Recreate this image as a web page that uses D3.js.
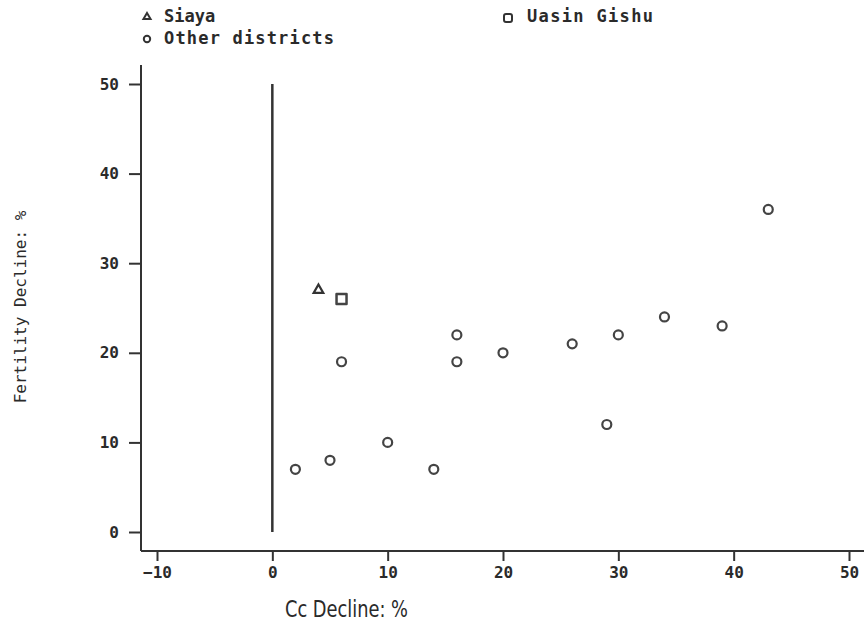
<!DOCTYPE html>
<html>
<head>
<meta charset="utf-8">
<script src="https://cdn.jsdelivr.net/npm/d3@7/dist/d3.min.js"></script>
<style>
  body { margin: 0; background: #fff; }
  text { font-family: "DejaVu Sans Mono", monospace; fill: #2a2a2a; }
</style>
</head>
<body>
<svg></svg>
<script>
var width = 864,
  height = 639;

// data: Cc decline % vs fertility decline %
var siayaX = [4], siayaY = [27];
var uasinX = [6], uasinY = [26];
var otherX = [2, 5, 10, 14, 6, 16, 16, 20, 26, 30, 34, 39, 43, 29];
var otherY = [7, 8, 10, 7, 19, 22, 19, 20, 21, 22, 24, 23, 36, 12];
var xTicks = [-10, 0, 10, 20, 30, 40, 50];
var yTicks = [0, 10, 20, 30, 40, 50];
var refLine = [[0, 0], [0, 50]];

var svg = d3.select("svg")
  .attr("width", width)
  .attr("height", height);

var x = d3.scaleLinear().domain([-10, 50]).range([157, 849]);
var y = d3.scaleLinear().domain([0, 50]).range([532, 84]);

var axisX = 141, axisY = 551, ink = "#333";

// axis lines
svg.append("line")
  .attr("x1", axisX).attr("x2", axisX)
  .attr("y1", 65).attr("y2", axisY)
  .attr("stroke", ink).attr("stroke-width", 2);
svg.append("line")
  .attr("x1", axisX).attr("x2", width)
  .attr("y1", axisY).attr("y2", axisY)
  .attr("stroke", ink).attr("stroke-width", 2);

var gx = svg.append("g")
  .attr("transform", "translate(0," + axisY + ")")
  .call(d3.axisBottom(x).tickValues(xTicks).tickSize(10).tickPadding(6).tickFormat(d3.format("d")));
gx.select(".domain").remove();
gx.selectAll("line").attr("stroke", ink).attr("stroke-width", 2);
gx.selectAll("text").style("font-size", "16px").style("font-weight", "bold").attr("fill", ink);

var gy = svg.append("g")
  .attr("transform", "translate(" + axisX + ",0)")
  .call(d3.axisLeft(y).tickValues(yTicks).tickSize(12).tickPadding(10));
gy.select(".domain").remove();
gy.selectAll("line").attr("stroke", ink).attr("stroke-width", 2);
gy.selectAll("text").style("font-size", "16px").style("font-weight", "bold").attr("fill", ink);

// vertical reference line at zero
svg.append("path")
  .datum(refLine)
  .attr("d", d3.line().x(function(d) { return x(d[0]); }).y(function(d) { return y(d[1]); }))
  .attr("stroke", ink)
  .attr("stroke-width", 2.5);

// points
var other = otherX.map(function(v, i) { return [v, otherY[i]]; });
svg.append("g").selectAll("circle")
  .data(other)
  .enter().append("circle")
  .attr("cx", function(d) { return x(d[0]); })
  .attr("cy", function(d) { return y(d[1]); })
  .attr("r", 4.5)
  .attr("fill", "none")
  .attr("stroke", "#444")
  .attr("stroke-width", 2.2);

var tri = d3.symbol().type(d3.symbolTriangle).size(40);
var sq = d3.symbol().type(d3.symbolSquare).size(100);

svg.append("g").selectAll("path")
  .data(siayaX.map(function(v, i) { return [v, siayaY[i]]; }))
  .enter().append("path")
  .attr("d", tri)
  .attr("transform", function(d) { return "translate(" + x(d[0]) + "," + y(d[1]) + ")"; })
  .attr("fill", "none").attr("stroke", "#333").attr("stroke-width", 2.2);

svg.append("g").selectAll("path")
  .data(uasinX.map(function(v, i) { return [v, uasinY[i]]; }))
  .enter().append("path")
  .attr("d", sq)
  .attr("transform", function(d) { return "translate(" + x(d[0]) + "," + y(d[1]) + ")"; })
  .attr("fill", "none").attr("stroke", "#444").attr("stroke-width", 2.5)
  .attr("stroke-linejoin", "round");

// legend
var legend = svg.append("g");
legend.append("path").attr("d", d3.symbol().type(d3.symbolTriangle).size(22))
  .attr("transform", "translate(147,17)")
  .attr("fill", "none").attr("stroke", "#333").attr("stroke-width", 2);
legend.append("text").attr("x", 164).attr("y", 22).text("Siaya")
  .style("font-size", "17px").style("font-weight", "bold");
legend.append("circle").attr("cx", 147).attr("cy", 39).attr("r", 3.2)
  .attr("fill", "none").attr("stroke", "#333").attr("stroke-width", 2);
legend.append("text").attr("x", 164).attr("y", 44).text("Other districts")
  .attr("textLength", 170).attr("lengthAdjust", "spacing")
  .style("font-size", "17px").style("font-weight", "bold");
legend.append("rect").attr("x", 504).attr("y", 14).attr("width", 8).attr("height", 8).attr("rx", 2)
  .attr("fill", "none").attr("stroke", "#333").attr("stroke-width", 2);
legend.append("text").attr("x", 527).attr("y", 22).text("Uasin Gishu")
  .attr("textLength", 126).attr("lengthAdjust", "spacing")
  .style("font-size", "17px").style("font-weight", "bold");

// axis titles
svg.append("text")
  .attr("x", 285).attr("y", 617)
  .attr("textLength", 123).attr("lengthAdjust", "spacingAndGlyphs")
  .style("font-family", "'DejaVu Sans Condensed', sans-serif")
  .style("font-size", "23px")
  .attr("fill", "#222")
  .text("Cc Decline: %");

svg.append("text")
  .attr("transform", "translate(26,307) rotate(-90)")
  .attr("text-anchor", "middle")
  .style("font-size", "16px")
  .attr("fill", "#333")
  .text("Fertility Decline: %");
</script>
</body>
</html>
